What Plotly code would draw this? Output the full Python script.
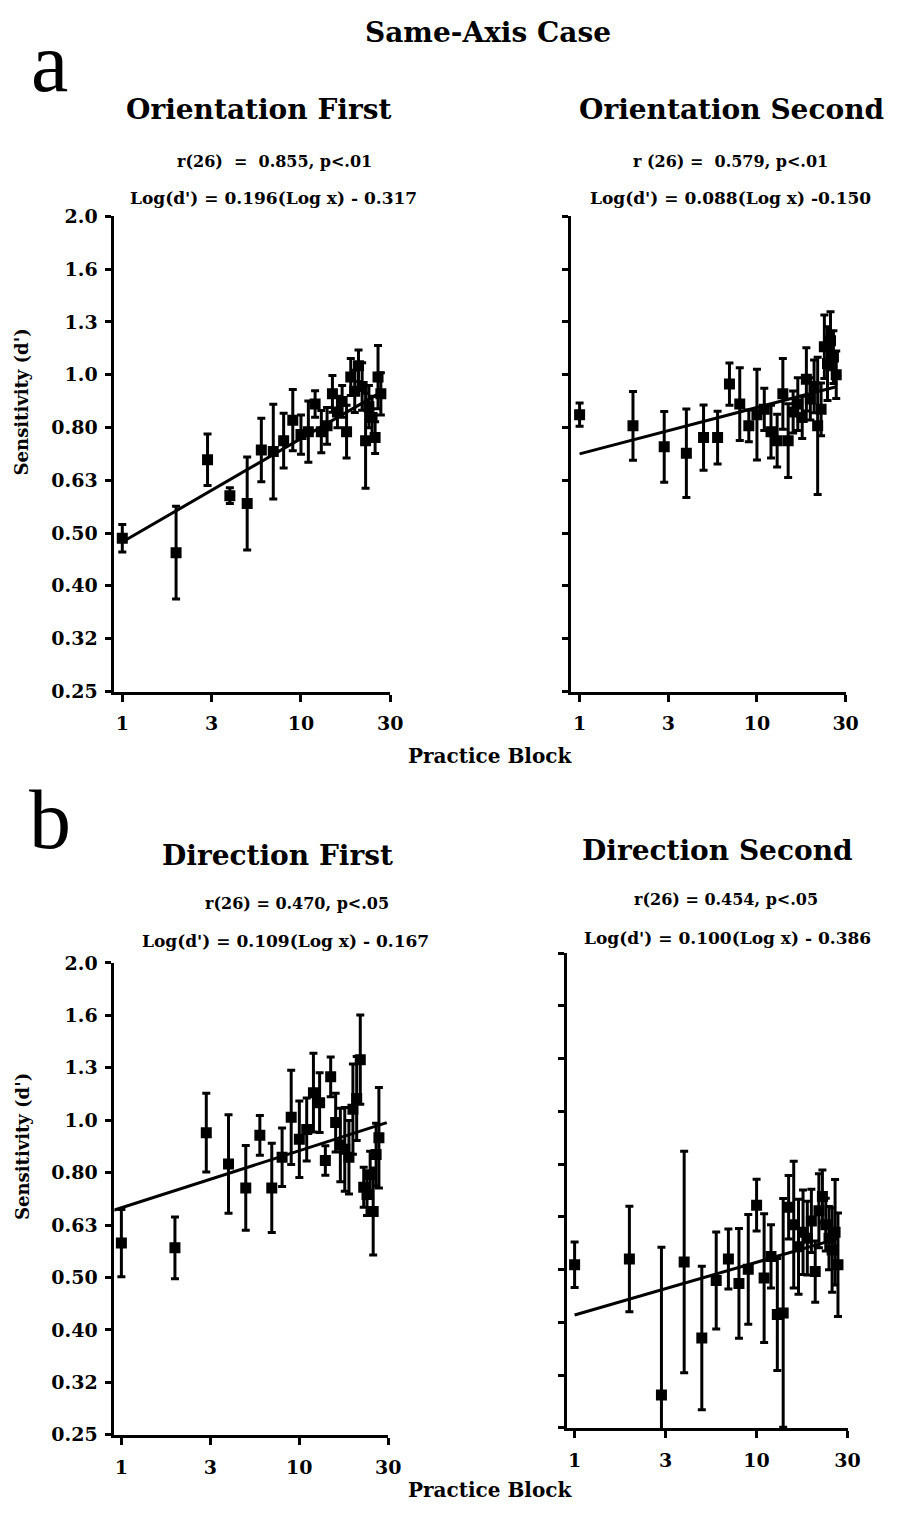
import math
import plotly.graph_objects as go

blocks = list(range(1, 29))

# Sensitivity (d') means and error half-widths (log10 units) per practice block
orient_first_d = [0.49, 0.46, 0.69, 0.59, 0.57, 0.72, 0.715, 0.75, 0.82, 0.77, 0.78, 0.88, 0.78, 0.80,
                  0.92, 0.85, 0.89, 0.78, 0.99, 0.93, 1.04, 0.95, 0.75, 0.87, 0.83, 0.76, 0.99, 0.92]
orient_first_e = [0.026, 0.088, 0.049, 0.015, 0.088, 0.06, 0.09, 0.052, 0.058, 0.037, 0.058, 0.025, 0.04, 0.035,
                  0.035, 0.03, 0.03, 0.05, 0.035, 0.04, 0.03, 0.045, 0.09, 0.04, 0.04, 0.03, 0.06, 0.04]
orient_second_d = [0.84, 0.80, 0.73, 0.71, 0.76, 0.76, 0.96, 0.88, 0.80, 0.84, 0.86, 0.78, 0.75, 0.92,
                   0.75, 0.85, 0.88, 0.83, 0.98, 0.90, 0.95, 0.80, 0.86, 1.13, 1.05, 1.16, 1.08, 1.00]
orient_second_e = [0.022, 0.065, 0.067, 0.084, 0.062, 0.05, 0.04, 0.069, 0.03, 0.086, 0.04, 0.05, 0.05, 0.067,
                   0.07, 0.04, 0.05, 0.04, 0.06, 0.04, 0.05, 0.13, 0.05, 0.06, 0.07, 0.055, 0.05, 0.045]
direct_first_d = [0.583, 0.571, 0.947, 0.825, 0.743, 0.936, 0.743, 0.85, 1.013, 0.92, 0.96, 1.129, 1.08, 0.838,
                  1.21, 0.99, 0.897, 0.88, 0.85, 1.05, 1.10, 1.305, 0.745, 0.722, 0.787, 0.67, 0.86, 0.926]
direct_first_e = [0.064, 0.059, 0.075, 0.094, 0.081, 0.038, 0.085, 0.056, 0.09, 0.073, 0.06, 0.075, 0.057, 0.028,
                  0.038, 0.056, 0.07, 0.08, 0.07, 0.086, 0.08, 0.085, 0.038, 0.04, 0.045, 0.083, 0.06, 0.096]
direct_second_d = [0.512, 0.525, 0.29, 0.518, 0.372, 0.478, 0.525, 0.472, 0.502, 0.664, 0.483, 0.531, 0.412, 0.415,
                   0.658, 0.61, 0.554, 0.59, 0.575, 0.62, 0.497, 0.648, 0.69, 0.61, 0.575, 0.546, 0.59, 0.512]
direct_second_e = [0.043, 0.1, 0.28, 0.21, 0.136, 0.092, 0.057, 0.104, 0.104, 0.049, 0.122, 0.06, 0.106, 0.217,
                   0.06, 0.12, 0.09, 0.08, 0.07, 0.06, 0.058, 0.07, 0.05, 0.05, 0.06, 0.08, 0.1, 0.098]

# regression: Log(d') = slope * Log(x) + intercept, drawn between the given blocks
fits = [(0.196, -0.317), (0.088, -0.150), (0.109, -0.167), (0.100, -0.386)]
fit_spans = [(1, 28), (1, 28), (0.9, 31), (1, 28)]

titles = ["Orientation First", "Orientation Second", "Direction First", "Direction Second"]
stats_r = ["r(26)  =  0.855, p<.01", "r (26) =  0.579, p<.01", "r(26) = 0.470, p<.05", "r(26) = 0.454, p<.05"]
stats_eq = ["Log(d') = 0.196(Log x) - 0.317", "Log(d') = 0.088(Log x) -0.150",
            "Log(d') = 0.109(Log x) - 0.167", "Log(d') = 0.100(Log x) - 0.386"]

y_tickvals_exp = [0.3, 0.2, 0.1, 0.0, -0.1, -0.2, -0.3, -0.4, -0.5, -0.6]
y_ticktext = ["2.0", "1.6", "1.3", "1.0", "0.80", "0.63", "0.50", "0.40", "0.32", "0.25"]
x_tickvals_exp = [0.0, 0.5, 1.0, 1.5]
x_ticktext = ["1", "3", "10", "30"]

W, H = 898, 1513
OFF = 8  # page body margin


def fx(X):
    return (X - OFF) / W


def fy(Y):
    return 1 - (Y - OFF) / H


# panel boxes in page pixels: (left, right, top, bottom, left pad in log units)
panels = [(116, 396, 208, 690, 0.044), (579, 858, 208, 690, 0.05),
          (116, 394, 965, 1444, 0.039), (575, 860, 955, 1437, 0.043)]
series = [(orient_first_d, orient_first_e), (orient_second_d, orient_second_e),
          (direct_first_d, direct_first_e), (direct_second_d, direct_second_e)]

FONT = "DejaVu Serif"
fig = go.Figure()
layout = {}
for i, ((l, r, t, b, pad), (d, e), (sl, ic), span) in enumerate(zip(panels, series, fits, fit_spans)):
    n = "" if i == 0 else str(i + 1)
    xa, ya = "x" + n, "y" + n
    line_x = list(span)
    line_y = [10 ** (sl * math.log10(v) + ic) for v in line_x]
    fig.add_trace(go.Scatter(x=line_x, y=line_y, mode="lines", line=dict(color="black", width=3),
                             xaxis=xa, yaxis=ya, showlegend=False))
    hi = [v * (10 ** s - 1) for v, s in zip(d, e)]
    lo = [v * (1 - 10 ** -s) for v, s in zip(d, e)]
    fig.add_trace(go.Scatter(x=blocks, y=d, mode="markers",
                             marker=dict(symbol="square", size=11, color="black"),
                             error_y=dict(type="data", symmetric=False, array=hi, arrayminus=lo,
                                          color="black", thickness=3, width=4),
                             xaxis=xa, yaxis=ya, showlegend=False))
    layout["xaxis" + n] = dict(
        domain=[fx(l), fx(r)], anchor=ya, type="log", range=[-pad, 1.5005],
        tickmode="array", tickvals=[10 ** v for v in x_tickvals_exp], ticktext=x_ticktext,
        ticks="outside", ticklen=7, tickwidth=3, tickcolor="black", ticklabelstandoff=6,
        showline=True, linecolor="black", linewidth=3, showgrid=False, zeroline=False,
        tickfont=dict(family=FONT, size=19, color="black", weight="bold"))
    layout["yaxis" + n] = dict(
        domain=[fy(b), fy(t)], anchor=xa, type="log", range=[-0.6005, 0.3005],
        tickmode="array", tickvals=[10 ** v for v in y_tickvals_exp], ticktext=y_ticktext,
        showticklabels=(i % 2 == 0),
        ticks="outside", ticklen=6, tickwidth=3, tickcolor="black", ticklabelstandoff=4,
        showline=True, linecolor="black", linewidth=3, showgrid=False, zeroline=False,
        tickfont=dict(family=FONT, size=19, color="black", weight="bold"))

ann = []


def txt(s, x, y, size, bold=True, family=FONT, angle=0):
    ann.append(dict(text=s, x=fx(x), y=fy(y), xref="paper", yref="paper", showarrow=False,
                    xanchor="center", yanchor="middle", textangle=angle,
                    font=dict(family=family, size=size, color="black", weight="bold" if bold else "normal")))


txt("Same-Axis Case", 495, 22, 28)
txt("a", 50, 52, 84, bold=False, family="Liberation Serif")
txt("b", 51, 820, 84, bold=False, family="Liberation Serif")
title_pos = [(262, 100), (742, 100), (281, 856), (728, 851)]
r_pos = [(278, 153), (741, 153), (301, 905), (737, 901)]
eq_pos = [(277, 190), (741, 190), (290, 943), (738, 940)]
for i in range(4):
    txt(titles[i], *title_pos[i], 28)
    txt(stats_r[i], *r_pos[i], 16)
    txt(stats_eq[i], *eq_pos[i], 17)
txt("Sensitivity (d')", 22, 396, 18, angle=-90)
txt("Sensitivity (d')", 22, 1151, 18, angle=-90)
txt("Practice Block", 497, 755, 20)
txt("Practice Block", 497, 1500, 20)

fig.update_layout(width=W, height=H, autosize=False, margin=dict(l=0, r=0, t=0, b=0),
                  paper_bgcolor="white", plot_bgcolor="white", annotations=ann, **layout)
fig.write_html("out.html", config={"displayModeBar": False})
